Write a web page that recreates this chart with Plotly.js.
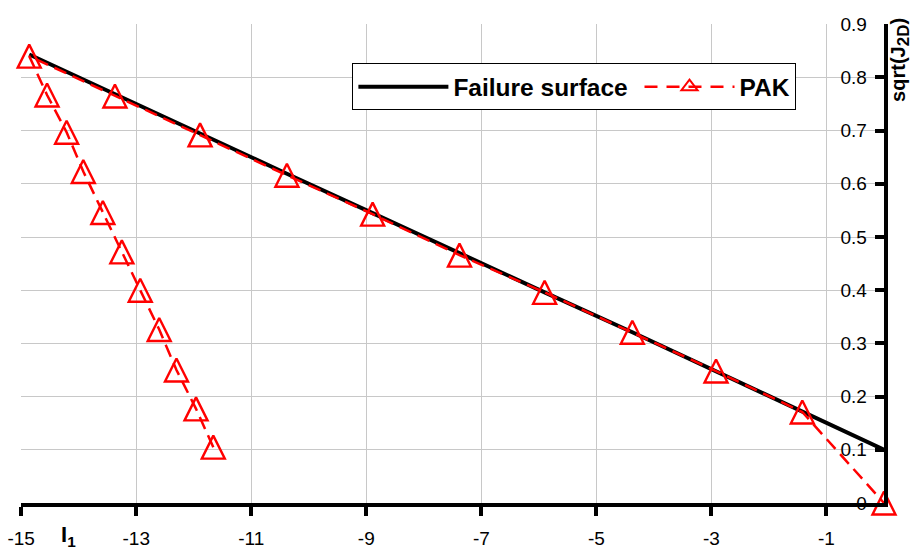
<!DOCTYPE html>
<html>
<head>
<meta charset="utf-8">
<script src="https://cdn.plot.ly/plotly-3.0.1.min.js"></script>
<style>html,body{margin:0;padding:0;background:#fff;}#chart{width:912px;height:549px;}</style>
</head>
<body>
<div id="chart"></div>
<script>
// Failure surface (I1, sqrt(J2D))
var failureI1 = [-14.86, -13.37, -11.89, -10.38, -8.89, -7.38, -5.90, -4.375, -2.92, -1.42, 0];
var failureJ2 = [0.843, 0.768, 0.694, 0.619, 0.545, 0.469, 0.396, 0.321, 0.247, 0.172, 0.100];
// PAK stress path
var pakI1 = [-11.66, -11.96, -12.30, -12.60, -12.93, -13.25, -13.58, -13.92, -14.21, -14.55, -14.86,
             -13.37, -11.89, -10.38, -8.89, -7.38, -5.90, -4.375, -2.92, -1.42, 0];
var pakJ2 = [0.105, 0.177, 0.250, 0.326, 0.400, 0.472, 0.546, 0.623, 0.697, 0.767, 0.840,
             0.765, 0.692, 0.616, 0.543, 0.466, 0.396, 0.321, 0.248, 0.171, 0];
var xTicks = [-15, -13, -11, -9, -7, -5, -3, -1];
var yTicks = [0, 0.1, 0.2, 0.3, 0.4, 0.5, 0.6, 0.7, 0.8, 0.9];
var seriesNames = ['Failure surface', 'PAK'];

var FONT = 'Arial, "Liberation Sans", sans-serif';
var markerSize = 23;
var yTop = 0.9004;
var plotH = 549 - 24 - 46;
// arrow-up glyph has its tip on the point; shift so the triangle is centred on it
var yOff = (markerSize / 2) / (plotH / yTop);

var traces = [
  {x: failureI1, y: failureJ2, mode: 'lines', name: seriesNames[0] + '\u00a0',
   line: {color: '#000', width: 4}, showlegend: true},
  {x: pakI1, y: pakJ2, mode: 'lines', name: seriesNames[1], showlegend: false,
   line: {color: '#ff0000', width: 2.5, dash: '13px,7px'}},
  {x: pakI1, y: pakJ2, mode: 'markers', yaxis: 'y2', showlegend: false, cliponaxis: false,
   marker: {symbol: 'arrow-up-open', size: markerSize, color: '#ff0000', line: {width: 2.4, color: '#ff0000'}}},
  {x: [null], y: [null], mode: 'lines+markers', name: seriesNames[1], showlegend: true,
   line: {color: '#ff0000', width: 2.5, dash: '13px,9px'},
   marker: {symbol: 'triangle-up-open', size: 14, color: '#ff0000', line: {width: 2, color: '#ff0000'}}}
];

var layout = {
  width: 912, height: 549,
  margin: {l: 21, r: 28, t: 24, b: 46, pad: 0},
  paper_bgcolor: '#fff', plot_bgcolor: '#fff',
  font: {family: FONT, size: 19, color: '#000'},
  xaxis: {
    range: [-15.003, 0], tickvals: xTicks, ticktext: xTicks.map(String),
    showgrid: true, gridcolor: '#c8c8c8', gridwidth: 1,
    zeroline: false, showline: true, linecolor: '#000', linewidth: 4,
    ticks: 'outside', ticklen: 9, tickwidth: 4, tickcolor: '#000', ticklabelstandoff: 6,
    tickfont: {family: FONT, size: 19, color: '#000'}, fixedrange: true
  },
  yaxis: {
    range: [0, yTop], tickvals: yTicks, ticktext: yTicks.map(function(v){return String(v);}),
    side: 'right', ticklabelposition: 'inside', ticklabeloverflow: 'allow', ticklabelstandoff: 9,
    showgrid: true, gridcolor: '#c8c8c8', gridwidth: 1,
    zeroline: false, showline: true, linecolor: '#000', linewidth: 4,
    ticks: 'inside', ticklen: 9, tickwidth: 4, tickcolor: '#000',
    tickfont: {family: FONT, size: 19, color: '#000'}, fixedrange: true
  },
  yaxis2: {
    overlaying: 'y', range: [-yOff, yTop - yOff], visible: false, showgrid: false, fixedrange: true
  },
  legend: {
    orientation: 'h', x: 0.384, y: 0.918, xanchor: 'left', yanchor: 'top',
    bgcolor: '#fff', bordercolor: '#000', borderwidth: 1,
    font: {family: FONT, size: 24.5, color: '#000', weight: 'bold'},
    itemwidth: 90
  },
  annotations: [
    {xref: 'paper', yref: 'paper', x: 1.0185, y: 0.925, xanchor: 'center', yanchor: 'middle',
     text: 'sqrt(J<sub><span style="font-size:17px">2D</span></sub>)', showarrow: false, textangle: -90,
     font: {family: FONT, size: 20, color: '#000', weight: 'bold'}},
    {xref: 'paper', yref: 'paper', x: 0.0556, y: -0.068, xanchor: 'center', yanchor: 'middle',
     text: 'I<sub>1</sub>', showarrow: false,
     font: {family: FONT, size: 22, color: '#000', weight: 'bold'}}
  ]
};

Plotly.newPlot('chart', traces, layout, {displayModeBar: false, staticPlot: true});
</script>
</body>
</html>
